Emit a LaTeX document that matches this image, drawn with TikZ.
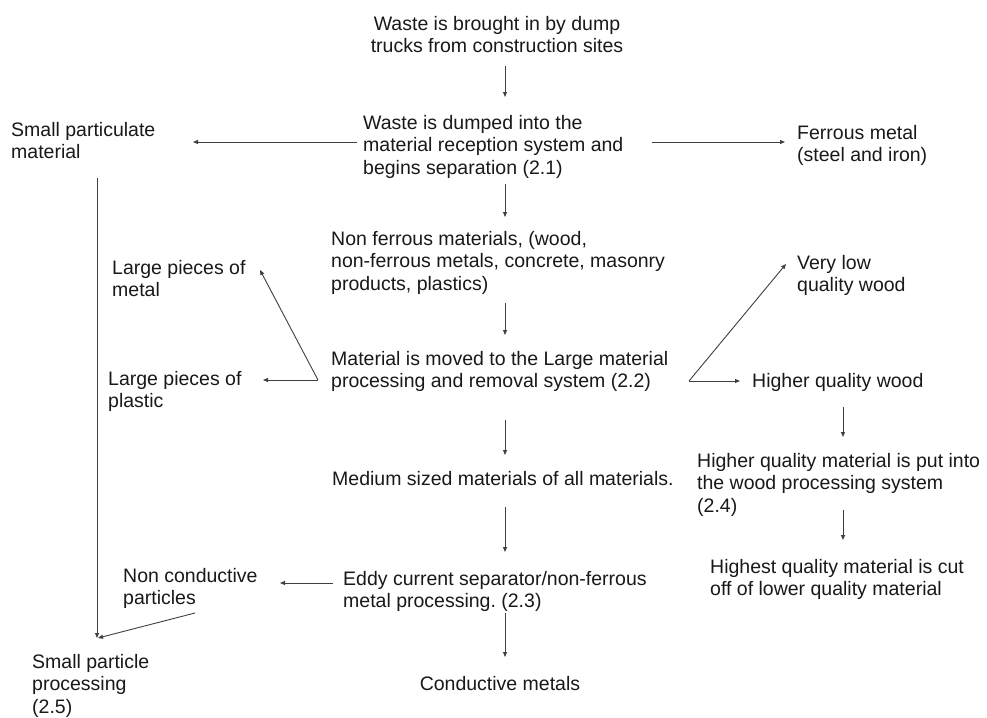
\documentclass[tikz,border=0pt]{standalone}
\usepackage{fontspec}
\setmainfont{Liberation Sans}
\usetikzlibrary{arrows.meta}
\frenchspacing
\begin{document}
\begin{tikzpicture}[x=1pt,y=-1pt,
  lbl/.style={font=\fontsize{19.5}{22.5}\selectfont, text=black!90, inner sep=0pt, align=left, anchor=base west},
  clbl/.style={lbl, align=center, anchor=base},
  arr/.style={draw=black!75, line width=0.9pt, -{Triangle[length=5pt,width=4pt]}},
  ln/.style={draw=black!75, line width=0.9pt}]
\useasboundingbox[fill=white] (0,0) rectangle (987,717);
% nodes (anchor = baseline of the last line)
\node[clbl] (top) at (497,52.5) {Waste is brought in by dump\\trucks from construction sites};
\node[lbl] (recv) at (363,174) {Waste is dumped into the\\material reception system and\\begins separation (2.1)};
\node[lbl] (small) at (11,158.5) {Small particulate\\material};
\node[lbl] (ferr) at (797,161.5) {Ferrous metal\\(steel and iron)};
\node[lbl] (nonf) at (331,290) {Non ferrous materials, (wood,\\non-ferrous metals, concrete, masonry\\products, plastics)};
\node[lbl] (large) at (331,387.5) {Material is moved to the Large material\\processing and removal system (2.2)};
\node[lbl] (lmetal) at (112,296.5) {Large pieces of\\metal};
\node[lbl] (lplast) at (108,407.5) {Large pieces of\\plastic};
\node[lbl] (vlow) at (797,291.5) {Very low\\quality wood};
\node[lbl] (hwood) at (752,387) {Higher quality wood};
\node[lbl] (wproc) at (697,512) {Higher quality material is put into\\the wood processing system\\(2.4)};
\node[lbl] (hcut) at (710,595.5) {Highest quality material is cut\\off of lower quality material};
\node[lbl] (medium) at (332,485) {Medium sized materials of all materials.};
\node[lbl] (eddy) at (343,607.5) {Eddy current separator/non-ferrous\\metal processing. (2.3)};
\node[lbl] (noncond) at (123,604.5) {Non conductive\\particles};
\node[lbl] (spp) at (32,713) {Small particle\\processing\\(2.5)};
\node[clbl] (cond) at (500,690) {Conductive metals};
% connector end points
\coordinate (a1s) at (505,66);  \coordinate (a1e) at (505,97);
\coordinate (a2s) at (357,142); \coordinate (a2e) at (193,142);
\coordinate (a3s) at (652,142); \coordinate (a3e) at (785,142);
\coordinate (a4s) at (505,184); \coordinate (a4e) at (505,217);
\coordinate (a5s) at (505,303); \coordinate (a5e) at (505,335);
\coordinate (lp) at (318,380);  \coordinate (lpa) at (263,380); \coordinate (lpb) at (260,270);
\coordinate (rp) at (689,381);  \coordinate (rpa) at (740,381); \coordinate (rpb) at (786,264);
\coordinate (a8s) at (843,407); \coordinate (a8e) at (843,437);
\coordinate (a9s) at (843,510); \coordinate (a9e) at (843,540);
\coordinate (a10s) at (505,420); \coordinate (a10e) at (505,455);
\coordinate (a11s) at (505,507); \coordinate (a11e) at (505,552);
\coordinate (a12s) at (333,583); \coordinate (a12e) at (280,583);
\coordinate (a13s) at (505,613); \coordinate (a13e) at (505,657);
\coordinate (a14s) at (97,178);  \coordinate (a14e) at (97,638);
\coordinate (a15s) at (195,613); \coordinate (a15e) at (98,638);
% connectors
\draw[arr] (a1s) -- (a1e);
\draw[arr] (a2s) -- (a2e);
\draw[arr] (a3s) -- (a3e);
\draw[arr] (a4s) -- (a4e);
\draw[arr] (a5s) -- (a5e);
\draw[arr] (lp) -- (lpa);
\draw[arr] (lp) -- (lpb);
\draw[arr] (rp) -- (rpa);
\draw[arr] (rp) -- (rpb);
\draw[arr] (a8s) -- (a8e);
\draw[arr] (a9s) -- (a9e);
\draw[arr] (a10s) -- (a10e);
\draw[arr] (a11s) -- (a11e);
\draw[arr] (a12s) -- (a12e);
\draw[arr] (a13s) -- (a13e);
\draw[arr] (a14s) -- (a14e);
\draw[arr] (a15s) -- (a15e);
\end{tikzpicture}
\end{document}
